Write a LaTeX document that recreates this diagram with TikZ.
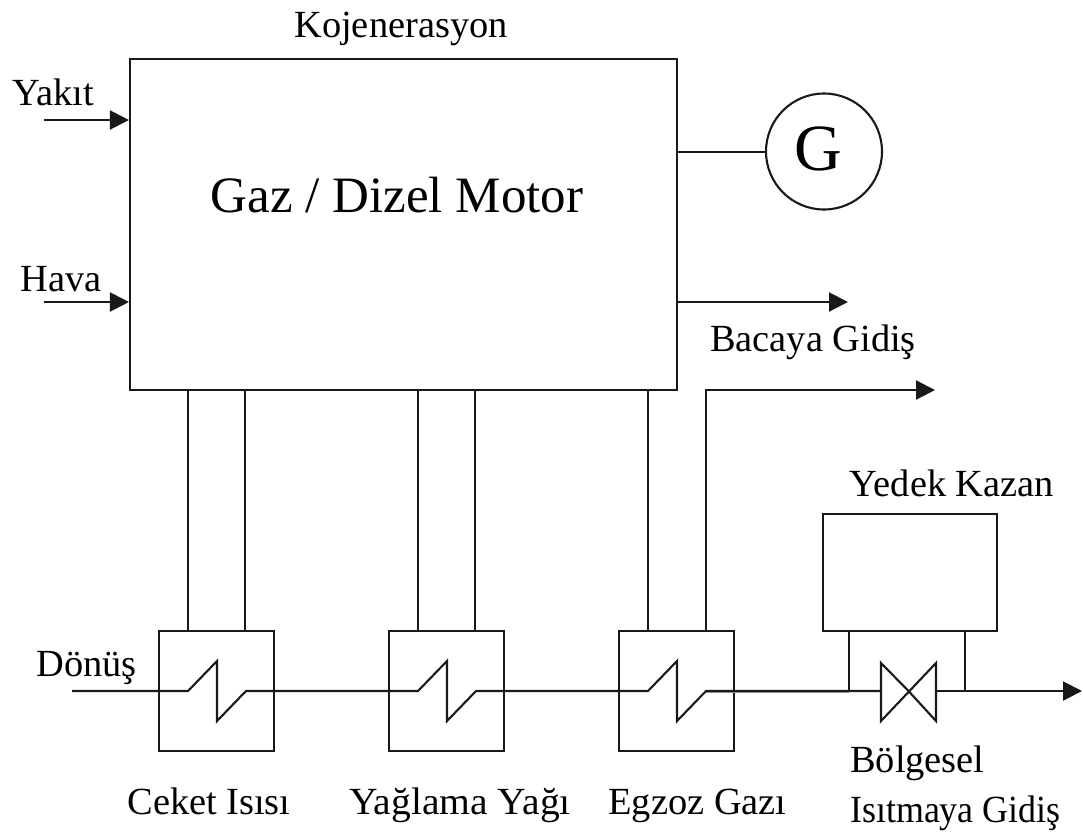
\documentclass[tikz,border=0pt]{standalone}
\usepackage{fontspec}
\setmainfont{Liberation Serif}
\usetikzlibrary{arrows.meta}
\tikzset{
  x=1pt,y=-1pt,
  ln/.style={draw=black!90,line width=2.1pt},
  arr/.style={ln,-{Triangle[length=19pt,width=19pt]},shorten >=0pt},
  hx/.style={ln,inner sep=0pt,minimum width=115pt,minimum height=120pt},
  lab/.style={inner sep=0pt,font=\fontsize{38.4}{42}\selectfont,anchor=base},
  labs/.style={inner sep=0pt,font=\fontsize{38.4}{42}\selectfont,anchor=base west},
}
\begin{document}
\begin{tikzpicture}
\useasboundingbox (0,0) rectangle (1083,831);
% main blocks
\node[ln,inner sep=0pt,minimum width=547pt,minimum height=331pt] (motor) at (403.5,224.5) {};
\node[inner sep=0pt,font=\fontsize{51}{54}\selectfont] (motorlab) at (397,195) {Gaz / Dizel Motor};
\node[ln,circle,inner sep=0pt,minimum size=116pt] (gen) at (824,151.5) {};
\node[inner sep=0pt,font=\fontsize{66}{70}\selectfont] (genlab) at (818,149) {G};
\node[ln,inner sep=0pt,minimum width=174pt,minimum height=117pt] (kazan) at (910,572.5) {};
\node[hx] (h1) at (216.5,691) {};
\node[hx] (h2) at (446.5,691) {};
\node[hx] (h3) at (676.5,691) {};
% labels
\node[lab] (tk) at (401,37) {Kojenerasyon};
\node[lab] (ty) at (53,105) {Yakıt};
\node[lab] (th) at (61,291) {Hava};
\node[lab] (tb) at (813,351) {Bacaya Gidiş};
\node[lab] (tyk) at (952,496) {Yedek Kazan};
\node[lab] (td) at (86.5,676) {Dönüş};
\node[lab] (tc) at (209,814) {Ceket Isısı};
\node[lab,xscale=1.03] (tya) at (460,814) {Yağlama Yağı};
\node[lab] (te) at (697.5,814) {Egzoz Gazı};
\node[labs] (tbo) at (850,772) {Bölgesel};
\node[labs,xscale=0.935] (tbi) at (850,822) {Isıtmaya Gidiş};
% free ends
\coordinate (yin) at (44,120);
\coordinate (hin) at (44,302);
\coordinate (gl) at (766,152);
\coordinate (bout) at (848,302);
\coordinate (exout) at (935,390);
\coordinate (din) at (72,691);
\coordinate (out) at (1082,691);
\coordinate (vc) at (908.5,691);
\coordinate (vl) at (881,691);
\coordinate (vr) at (936,691);
\coordinate (j1) at (849,691);
\coordinate (j2) at (965,691);
% inputs & outputs
\draw[arr] (yin) -- (yin -| motor.west);
\draw[arr] (hin) -- (hin -| motor.west);
\draw[ln] (motor.east |- gl) -- (gl);
\draw[arr] (motor.east |- bout) -- (bout);
% vertical links
\draw[ln] (188,390) -- (188,631);
\draw[ln] (245,390) -- (245,631);
\draw[ln] (418,390) -- (418,631);
\draw[ln] (475,390) -- (475,631);
\draw[ln] (648,390) -- (648,631);
\draw[arr] (706,631) -- (706,390) -- (exout);
% process line
\draw[ln] (din) -- (188,691) -- (217,661) -- (217,721) -- (246,691)
  -- (418,691) -- (447,661) -- (447,721) -- (476,691)
  -- (648,691) -- (677,661) -- (677,721) -- (706,691) -- (vl);
\draw[draw=black!45,line width=1.3pt] (706,692.6) -- (849,692.6);
% valve
\draw[ln,line join=miter] (vc) -- (881,663) -- (881,721) -- (936,663) -- (936,721) -- cycle;
% boiler bypass
\draw[ln] (j1 |- kazan.south) -- (j1);
\draw[ln] (j2 |- kazan.south) -- (j2);
\draw[arr] (vr) -- (out);
\end{tikzpicture}
\end{document}
